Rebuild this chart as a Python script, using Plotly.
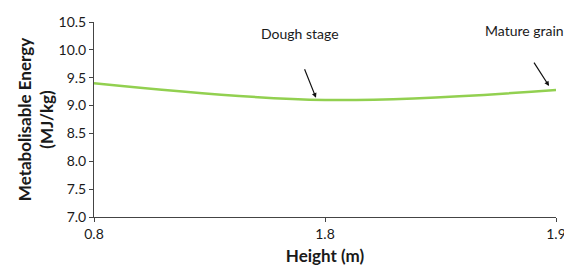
import plotly.graph_objects as go

heights = ["0.8", "1.8", "1.9"]
energy = [9.4, 9.1, 9.28]
y_ticks = [7.0, 7.5, 8.0, 8.5, 9.0, 9.5, 10.0, 10.5]

font_family = "Lato"

fig = go.Figure()
fig.add_trace(go.Scatter(
    x=heights, y=energy, mode="lines",
    line=dict(color="#92d050", width=2.5, shape="spline", smoothing=1.0),
    hoverinfo="skip", showlegend=False,
))

# arrows
fig.add_annotation(x=0.961, y=9.14, xref="x", yref="y", text="", showarrow=True,
                   ax=-12, ay=-30, arrowhead=2, arrowsize=0.8, arrowwidth=1.2,
                   arrowcolor="#111111")
fig.add_annotation(x=1.97, y=9.35, xref="x", yref="y", text="", showarrow=True,
                   ax=-16, ay=-25, arrowhead=2, arrowsize=0.8, arrowwidth=1.2,
                   arrowcolor="#111111")
# labels
fig.add_annotation(x=0.89, y=10.3, xref="x", yref="y", text="Dough stage", showarrow=False,
                   font=dict(size=14, color="#1a1a1a", family=font_family), xanchor="center")
fig.add_annotation(x=1.685, y=10.35, xref="x", yref="y", text="Mature grain", showarrow=False,
                   font=dict(size=14, color="#1a1a1a", family=font_family), xanchor="left")

fig.update_layout(
    width=564, height=268,
    margin=dict(l=94, r=8, t=22, b=51),
    paper_bgcolor="white", plot_bgcolor="white",
    font=dict(family=font_family, color="#1a1a1a", size=14),
    xaxis=dict(
        type="category", range=[0, 2], showgrid=False, zeroline=False, automargin=False,
        showline=True, linecolor="#444444", linewidth=1,
        ticks="outside", ticklen=4, tickcolor="#444444",
        tickfont=dict(size=14),
        title=dict(text="<b>Height (m)</b>", font=dict(size=17), standoff=9),
    ),
    yaxis=dict(
        range=[7.0, 10.5], tickvals=y_ticks, ticktext=[f"{v:.1f}" for v in y_ticks],
        showgrid=False, zeroline=False, automargin=False,
        showline=True, linecolor="#444444", linewidth=1,
        ticks="outside", ticklen=4, tickcolor="#444444",
        tickfont=dict(size=14),
        title=dict(text="<b>Metabolisable Energy<br>(MJ/kg)</b>", font=dict(size=17), standoff=0),
    ),
)

fig.write_html("out.html", config={"displayModeBar": False},
               post_script="document.body.style.margin='0';document.body.style.overflow='hidden';")
